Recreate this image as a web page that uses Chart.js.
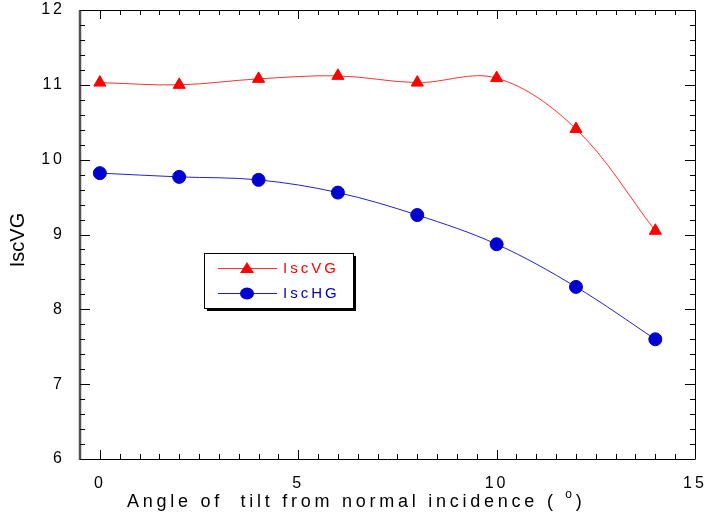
<!DOCTYPE html>
<html>
<head>
<meta charset="utf-8">
<script src="https://cdn.jsdelivr.net/npm/chart.js@4/dist/chart.umd.min.js"></script>
<style>
  html, body { margin: 0; padding: 0; background: #fff; }
  #wrap { width: 705px; height: 518px; }
</style>
</head>
<body>
<div id="wrap"><canvas id="chart" width="705" height="518"></canvas></div>
<script>
// data
const angles = [0, 2, 4, 6, 8, 10, 12, 14];
const iscVG = [11.03, 11.00, 11.08, 11.12, 11.03, 11.09, 10.41, 9.05];
const iscHG = [9.82, 9.77, 9.73, 9.56, 9.26, 8.87, 8.30, 7.60];
const xTickValues = [0, 5, 10, 15];
const yTickValues = [6, 7, 8, 9, 10, 11, 12];

const FONT = "'Liberation Sans', Arial, sans-serif";

// letter spacing for tick labels (canvas state gets reset on resize)
const spacingPlugin = {
  id: "spacing",
  beforeLayout(chart) { chart.ctx.letterSpacing = "3px"; },
  beforeDraw(chart) { chart.ctx.letterSpacing = "3px"; }
};

// frame + inward ticks on all four sides, legend box and axis titles
const framePlugin = {
  id: "frame",
  afterDraw(chart) {
    const ctx = chart.ctx;
    const a = chart.chartArea;
    const xs = chart.scales.x, ys = chart.scales.y;
    ctx.save();
    ctx.letterSpacing = "0px";

    // frame
    ctx.strokeStyle = "#000";
    ctx.lineWidth = 1;
    ctx.beginPath();
    ctx.moveTo(a.left, a.bottom + 0.5); ctx.lineTo(a.right, a.bottom + 0.5);
    ctx.moveTo(a.left, a.top + 0.5); ctx.lineTo(a.right + 0.5, a.top + 0.5);
    ctx.lineTo(a.right + 0.5, a.bottom + 0.5);
    ctx.stroke();
    ctx.strokeStyle = "#555";
    ctx.lineWidth = 2.5;
    ctx.beginPath();
    ctx.moveTo(a.left, a.top); ctx.lineTo(a.left, a.bottom + 1);
    ctx.stroke();

    // x ticks every 0.5, long at multiples of 5
    ctx.strokeStyle = "#000";
    ctx.lineWidth = 1;
    ctx.beginPath();
    for (let v = 0; v <= 15; v += 0.5) {
      const px = Math.round(xs.getPixelForValue(v)) + 0.5;
      const len = (v % 5 === 0) ? 9 : 5;
      ctx.moveTo(px, a.bottom); ctx.lineTo(px, a.bottom - len);
      ctx.moveTo(px, a.top); ctx.lineTo(px, a.top + len);
    }
    // y ticks every 0.2, long at integers
    for (let i = 0; i <= 30; i++) {
      const v = 6 + i * 0.2;
      const py = Math.round(ys.getPixelForValue(v)) + 0.5;
      const len = (i % 5 === 0) ? 10 : 5;
      ctx.moveTo(a.left, py); ctx.lineTo(a.left + len, py);
      ctx.moveTo(a.right, py); ctx.lineTo(a.right - len, py);
    }
    ctx.stroke();

    // legend box with shadow
    const bx = 204, by = 253, bw = 149, bh = 55;
    ctx.fillStyle = "#000";
    ctx.fillRect(bx + 3, by + 3, bw, bh);
    ctx.fillStyle = "#fff";
    ctx.fillRect(bx, by, bw, bh);
    ctx.strokeStyle = "#000";
    ctx.lineWidth = 1;
    ctx.strokeRect(bx + 0.5, by + 0.5, bw, bh);

    ctx.font = "15px " + FONT;
    ctx.letterSpacing = "3px";
    ctx.textBaseline = "middle";
    ctx.textAlign = "left";
    chart.data.datasets.forEach((ds, i) => {
      const ry = by + 15 + i * 25;
      ctx.strokeStyle = ds.borderColor;
      ctx.lineWidth = 1;
      ctx.beginPath();
      ctx.moveTo(218, ry + 0.5); ctx.lineTo(277, ry + 0.5);
      ctx.stroke();
      ctx.fillStyle = ds.pointBackgroundColor;
      ctx.beginPath();
      if (ds.pointStyle === "triangle") {
        ctx.moveTo(247, ry - 6); ctx.lineTo(254, ry + 5); ctx.lineTo(240, ry + 5);
        ctx.closePath();
      } else {
        ctx.ellipse(247, ry + 0.5, 7, 6, 0, 0, Math.PI * 2);
      }
      ctx.fill();
      ctx.fillStyle = ds.legendText;
      ctx.fillText(ds.label, 283, ry + 1);
    });

    // axis titles
    ctx.fillStyle = "#000";
    ctx.font = "18px " + FONT;
    ctx.letterSpacing = "3.75px";
    ctx.textBaseline = "alphabetic";
    const t = "Angle of  tilt from normal incidence ( ";
    ctx.fillText(t, 127, 507);
    let w = ctx.measureText(t).width;
    ctx.font = "12px " + FONT;
    ctx.fillText("o", 127 + w, 498);
    w += ctx.measureText("o").width;
    ctx.font = "18px " + FONT;
    ctx.fillText(")", 127 + w, 507);

    ctx.letterSpacing = "0px";
    ctx.font = "20px " + FONT;
    ctx.translate(18, 240);
    ctx.rotate(-Math.PI / 2);
    ctx.textAlign = "center";
    ctx.textBaseline = "middle";
    ctx.fillText("IscVG", 0, 0);
    ctx.restore();
  }
};

new Chart(document.getElementById("chart"), {
  type: "line",
  data: {
    datasets: [
      {
        label: "IscVG",
        data: angles.map((x, i) => ({ x: x, y: iscVG[i] })),
        borderColor: "#ff3030",
        pointBackgroundColor: "#ff0000",
        pointBorderColor: "#ff0000",
        legendText: "#ff0000",
        pointStyle: "triangle",
        pointRadius: 7,
        borderWidth: 1,
        tension: 0.35
      },
      {
        label: "IscHG",
        data: angles.map((x, i) => ({ x: x, y: iscHG[i] })),
        borderColor: "#2020d0",
        pointBackgroundColor: "#0000d0",
        pointBorderColor: "#0000d0",
        legendText: "#0000c0",
        pointStyle: "circle",
        pointRadius: 6.5,
        borderWidth: 1,
        tension: 0.35
      }
    ]
  },
  options: {
    responsive: false,
    animation: false,
    layout: { padding: { left: 0, right: 10, top: 10, bottom: 0 } },
    plugins: { legend: { display: false }, tooltip: { enabled: false } },
    scales: {
      x: {
        type: "linear",
        min: -0.5,
        max: 15,
        afterBuildTicks: (s) => { s.ticks = xTickValues.map(v => ({ value: v })); },
        afterFit: (s) => {
          s.height = 59;
          s.paddingLeft = 0; s.paddingRight = 0;
        },
        grid: { display: false, drawTicks: false },
        border: { display: false },
        ticks: {
          color: "#000",
          padding: 15,
          maxRotation: 0,
          font: { family: FONT, size: 16 }
        }
      },
      y: {
        min: 6,
        max: 12,
        afterBuildTicks: (s) => { s.ticks = yTickValues.map(v => ({ value: v })); },
        afterFit: (s) => {
          s.width = 80;
          s.paddingTop = 0; s.paddingBottom = 0;
        },
        grid: { display: false, drawTicks: false },
        border: { display: false },
        ticks: {
          color: "#000",
          padding: 15,
          font: { family: FONT, size: 16 }
        }
      }
    }
  },
  plugins: [spacingPlugin, framePlugin]
});
</script>
</body>
</html>
